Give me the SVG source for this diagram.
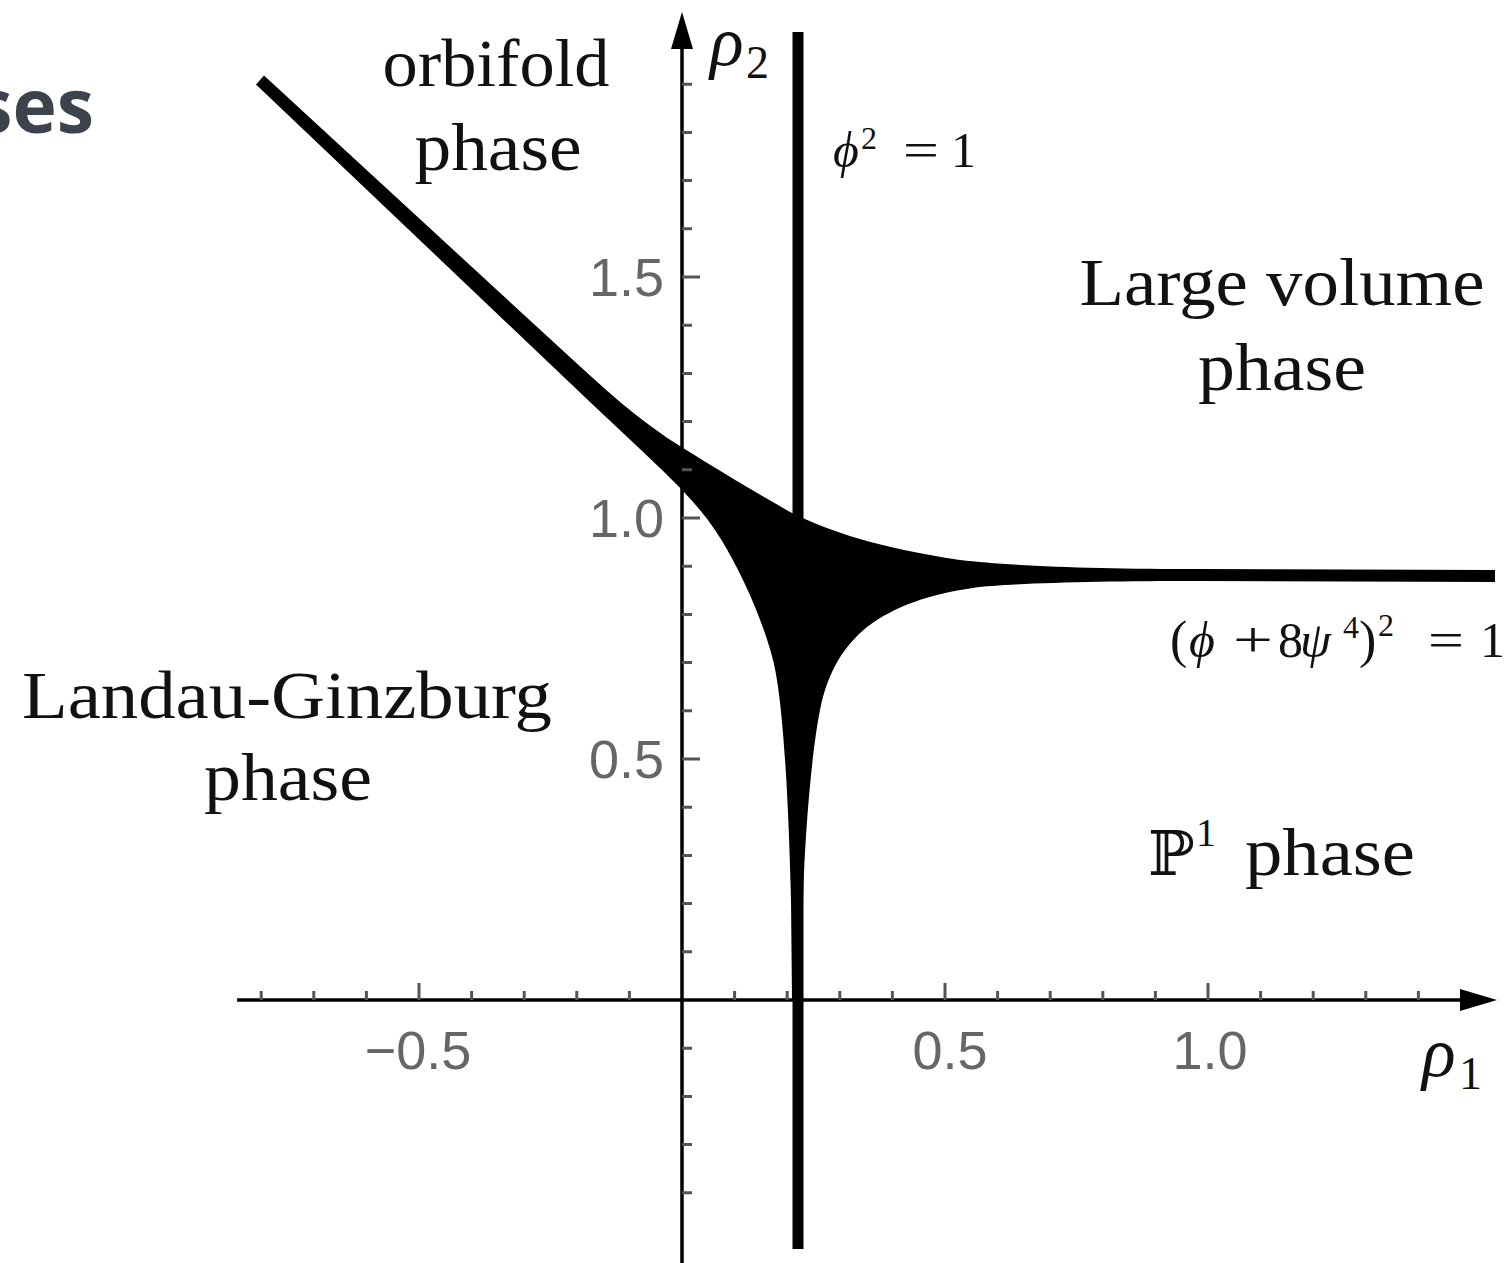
<svg xmlns="http://www.w3.org/2000/svg" width="1509" height="1263" viewBox="0 0 1509 1263">
<style>
.ax{stroke:#000;stroke-width:3.5;fill:none}
.tk{stroke:#555;stroke-width:3;fill:none}
.num{font-family:"Liberation Sans",Arial,sans-serif;font-size:54px;fill:#666}
.lab{font-family:"Liberation Serif","DejaVu Serif",serif;font-size:68px;fill:#111}
.mi{font-family:"Liberation Serif","DejaVu Serif",serif;font-style:italic;fill:#111}
.mr{font-family:"Liberation Serif","DejaVu Serif",serif;fill:#111}
</style>
<rect width="1509" height="1263" fill="#fff"/>
<text x="94" y="133" font-family="'Open Sans','Noto Sans',sans-serif" font-weight="bold" font-size="75" fill="#3d434c" text-anchor="end">ses</text>

<g id="curves">
<path id="amoeba" fill="#000" d="M256,84.4 L264,75.6 L560,348 C600,385 640,422 683,448 C720,471 760,495 790,512 C830,532 880,548 960,560 C1010,566 1100,569 1200,569 L1495,570 L1495,582 L1200,581 C1100,581 1010,583 973,588 C930,594 895,606 867,627 C845,645 828,670 820,710 C812,750 805,830 803,900 L803,1000 L792,1000 L791,900 C788,780 782,695 773,660 C760,610 735,560 715,530 C695,500 665,473 640,449 L590,402 Z"/>
<line id="phi-line" x1="798" y1="32" x2="798" y2="1249" stroke="#000" stroke-width="11"/>
</g>

<g id="axes">
<line class="ax" x1="237" y1="1000" x2="1470" y2="1000"/>
<polygon points="1497,1000 1460,989 1460,1011" fill="#000"/>
<line class="ax" x1="682" y1="1263" x2="682" y2="30"/>
<polygon points="682,12 671,49 693,49" fill="#000"/>
<path class="tk" d="M261.2,1000V991M313.8,1000V991M366.4,1000V991M419,1000V983M471.6,1000V991M524.2,1000V991M576.8,1000V991M629.4,1000V991M734.6,1000V991M787.2,1000V991M839.8,1000V991M892.4,1000V991M945,1000V983M997.6,1000V991M1050.2,1000V991M1102.8,1000V991M1155.4,1000V991M1208,1000V983M1260.6,1000V991M1313.2,1000V991M1365.8,1000V991M1418.4,1000V991"/>
<path class="tk" d="M682,1192.8H692M682,1144.6H692M682,1096.4H692M682,1048.2H692M682,951.8H692M682,903.6H692M682,855.4H692M682,807.2H692M682,759H700M682,710.8H692M682,662.6H692M682,614.4H692M682,566.2H692M682,518H700M682,469.8H692M682,421.6H692M682,373.4H692M682,325.2H692M682,277H700M682,228.8H692M682,180.6H692M682,132.4H692M682,84.2H692"/>
<text class="num" x="664" y="296" text-anchor="end">1.5</text>
<text class="num" x="664" y="537" text-anchor="end">1.0</text>
<text class="num" x="664" y="778" text-anchor="end">0.5</text>
<text class="num" x="418" y="1069" text-anchor="middle">−0.5</text>
<text class="num" x="950" y="1069" text-anchor="middle">0.5</text>
<text class="num" x="1210" y="1069" text-anchor="middle">1.0</text>
<text class="mi" x="710" y="65" font-size="70">ρ</text>
<text class="mr" x="746" y="78" font-size="46">2</text>
<text class="mi" x="1422" y="1076" font-size="70">ρ</text>
<text class="mr" x="1459" y="1089" font-size="46">1</text>
</g>

<g id="labels">
<text class="lab" x="496" y="86" text-anchor="middle" textLength="227" lengthAdjust="spacingAndGlyphs">orbifold</text>
<text class="lab" x="498" y="170" text-anchor="middle" textLength="167" lengthAdjust="spacingAndGlyphs">phase</text>
<text class="lab" x="1282" y="305" text-anchor="middle" textLength="405" lengthAdjust="spacingAndGlyphs">Large volume</text>
<text class="lab" x="1282" y="390" text-anchor="middle" textLength="168" lengthAdjust="spacingAndGlyphs">phase</text>
<text class="lab" x="287" y="718" text-anchor="middle" textLength="530" lengthAdjust="spacingAndGlyphs">Landau-Ginzburg</text>
<text class="lab" x="288" y="800" text-anchor="middle" textLength="168" lengthAdjust="spacingAndGlyphs">phase</text>
<text font-family="'DejaVu Serif','DejaVu Sans',serif" font-size="62" fill="#111" x="1148" y="875">ℙ</text>
<text class="mr" x="1196" y="846" font-size="40">1</text>
<text class="lab" x="1245" y="875" textLength="170" lengthAdjust="spacingAndGlyphs">phase</text>
</g>

<g id="formulas">
<text class="mi" x="833" y="167" font-size="50">ϕ</text>
<text class="mr" x="861" y="149" font-size="32">2</text>
<text class="mr" x="903" y="167" font-size="50" textLength="36" lengthAdjust="spacingAndGlyphs">=</text>
<text class="mr" x="951" y="167" font-size="50">1</text>

<text class="mr" x="1170" y="657" font-size="52">(</text>
<text class="mi" x="1189" y="657" font-size="50">ϕ</text>
<text class="mr" x="1233" y="657" font-size="50" textLength="40" lengthAdjust="spacingAndGlyphs">+</text>
<text class="mr" x="1278" y="657" font-size="50">8</text>
<text class="mi" x="1300" y="657" font-size="50">ψ</text>
<text class="mr" x="1343" y="638" font-size="32">4</text>
<text class="mr" x="1359" y="657" font-size="52">)</text>
<text class="mr" x="1378" y="636" font-size="32">2</text>
<text class="mr" x="1428" y="657" font-size="50" textLength="36" lengthAdjust="spacingAndGlyphs">=</text>
<text class="mr" x="1480" y="657" font-size="50">1</text>
</g>
</svg>
